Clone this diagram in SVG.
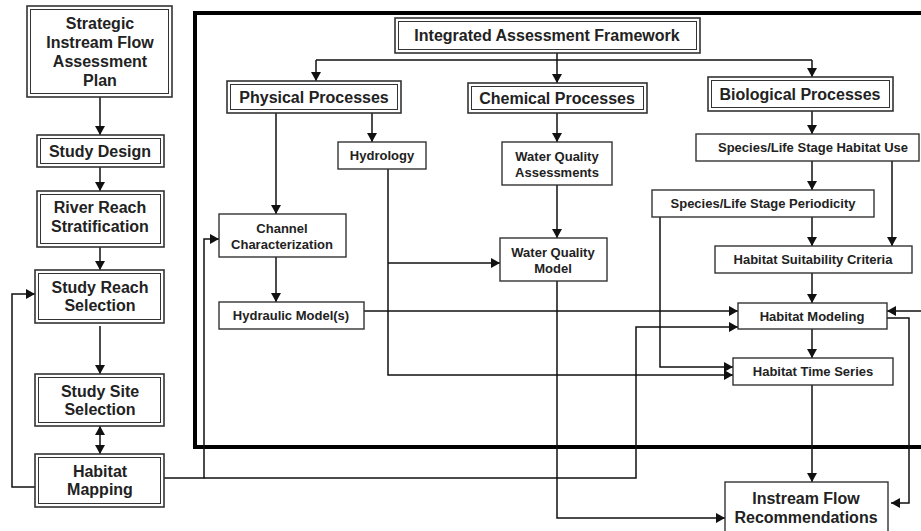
<svg xmlns="http://www.w3.org/2000/svg" width="921" height="531" viewBox="0 0 921 531">
<style>
.o{fill:#fff;stroke:#333;stroke-width:1.6}
.i{fill:none;stroke:#333;stroke-width:1}
.s{fill:#fff;stroke:#333;stroke-width:1.4}
.t{font-family:"Liberation Sans",Arial,sans-serif;font-weight:bold;font-size:16px;fill:#222;text-anchor:middle}
.m{font-family:"Liberation Sans",Arial,sans-serif;font-weight:bold;font-size:13px;fill:#222;text-anchor:middle}
.c{fill:none;stroke:#111;stroke-width:1.5}
.a{marker-end:url(#ah)}
</style>
<defs>
<marker id="ah" markerUnits="userSpaceOnUse" markerWidth="9" markerHeight="10" refX="9" refY="5" orient="auto-start-reverse">
<path d="M0,0 L9,5 L0,10 z" fill="#111"/>
</marker>
</defs>
<rect x="0" y="0" width="921" height="531" fill="#fff"/>
<rect id="frame" x="195" y="13" width="740" height="434" fill="none" stroke="#000" stroke-width="4"/>
<g id="connectors">
<path class="c a" d="M100,97 V135"/>
<path class="c a" d="M100,167 V191"/>
<path class="c a" d="M100,247 V270"/>
<path class="c a" d="M100,326 V374"/>
<path class="c a" d="M100,426 V454" style="marker-start:url(#ah)"/>
<path class="c a" d="M35,487 H12 V294 H35"/>
<path class="c a" d="M164,478 H204 V239 H219"/>
<path class="c a" d="M204,478 H636 V327 H738"/>
<path class="c" d="M557,53 V60 M316,60 H812"/>
<path class="c a" d="M316,60 V81"/>
<path class="c a" d="M557,60 V83"/>
<path class="c a" d="M812,60 V77"/>
<path class="c a" d="M372,113 V142"/>
<path class="c a" d="M276,113 V214"/>
<path class="c a" d="M557,113 V142"/>
<path class="c a" d="M812,111 V134"/>
<path class="c a" d="M812,161 V190"/>
<path class="c a" d="M892,161 V246"/>
<path class="c a" d="M812,217 V246"/>
<path class="c a" d="M812,273 V303"/>
<path class="c a" d="M812,329 V358"/>
<path class="c a" d="M812,385 V482"/>
<path class="c a" d="M660,217 V367 H733"/>
<path class="c a" d="M388,169 V375 H733"/>
<path class="c a" d="M388,263 H500"/>
<path class="c a" d="M276,257 V302"/>
<path class="c a" d="M364,311 H738"/>
<path class="c a" d="M557,185 V238"/>
<path class="c a" d="M557,281 V518 H725"/>
<path class="c a" d="M921,311 H887"/>
<path class="c a" d="M887,318 H909 V503 H891"/>
</g>
<g id="strategic-plan">
<rect class="o" x="27" y="6" width="145" height="91"/>
<rect class="i" x="30.5" y="9.5" width="138" height="84"/>
<text class="t" x="100" y="29">Strategic</text>
<text class="t" x="100" y="48">Instream Flow</text>
<text class="t" x="100" y="67">Assessment</text>
<text class="t" x="100" y="86">Plan</text>
</g>
<g id="study-design">
<rect class="o" x="37" y="135" width="127" height="32"/>
<rect class="i" x="40.5" y="138.5" width="120" height="25"/>
<text class="t" x="100" y="157">Study Design</text>
</g>
<g id="river-reach">
<rect class="o" x="37" y="191" width="127" height="56"/>
<rect class="i" x="40.5" y="194.5" width="120" height="49"/>
<text class="t" x="100" y="213">River Reach</text>
<text class="t" x="100" y="232">Stratification</text>
</g>
<g id="study-reach">
<rect class="o" x="35" y="270" width="129" height="53"/>
<rect class="i" x="38.5" y="273.5" width="122" height="46"/>
<text class="t" x="100" y="293">Study Reach</text>
<text class="t" x="100" y="311">Selection</text>
</g>
<g id="study-site">
<rect class="o" x="35" y="374" width="129" height="52"/>
<rect class="i" x="38.5" y="377.5" width="122" height="45"/>
<text class="t" x="100" y="397">Study Site</text>
<text class="t" x="100" y="415">Selection</text>
</g>
<g id="habitat-mapping">
<rect class="o" x="35" y="454" width="129" height="53"/>
<rect class="i" x="38.5" y="457.5" width="122" height="46"/>
<text class="t" x="100" y="477">Habitat</text>
<text class="t" x="100" y="495">Mapping</text>
</g>
<g id="iaf">
<rect class="o" x="395" y="18" width="305" height="35"/>
<rect class="i" x="398.5" y="21.5" width="298" height="28"/>
<text class="t" x="547" y="41">Integrated Assessment Framework</text>
</g>
<g id="physical">
<rect class="o" x="227" y="81" width="174" height="32"/>
<rect class="i" x="230.5" y="84.5" width="167" height="25"/>
<text class="t" x="314" y="103">Physical Processes</text>
</g>
<g id="chemical">
<rect class="o" x="468" y="83" width="179" height="30"/>
<rect class="i" x="471.5" y="86.5" width="172" height="23"/>
<text class="t" x="557" y="104">Chemical Processes</text>
</g>
<g id="biological">
<rect class="o" x="708" y="77" width="185" height="34"/>
<rect class="i" x="711.5" y="80.5" width="178" height="27"/>
<text class="t" x="800" y="100">Biological Processes</text>
</g>
<g id="hydrology">
<rect class="s" x="338" y="142" width="88" height="27"/>
<text class="m" x="382" y="160">Hydrology</text>
</g>
<g id="wq-assessments">
<rect class="s" x="502" y="142" width="110" height="43"/>
<text class="m" x="557" y="161">Water Quality</text>
<text class="m" x="557" y="177">Assessments</text>
</g>
<g id="habitat-use">
<rect class="s" x="696" y="134" width="223" height="27"/>
<text class="m" x="813" y="152">Species/Life Stage Habitat Use</text>
</g>
<g id="periodicity">
<rect class="s" x="652" y="190" width="222" height="27"/>
<text class="m" x="763" y="208">Species/Life Stage Periodicity</text>
</g>
<g id="hsc">
<rect class="s" x="715" y="246" width="197" height="27"/>
<text class="m" x="813" y="264">Habitat Suitability Criteria</text>
</g>
<g id="habitat-modeling">
<rect class="s" x="738" y="303" width="149" height="26"/>
<text class="m" x="812" y="321">Habitat Modeling</text>
</g>
<g id="habitat-time-series">
<rect class="s" x="733" y="358" width="160" height="27"/>
<text class="m" x="813" y="376">Habitat Time Series</text>
</g>
<g id="channel">
<rect class="s" x="219" y="214" width="127" height="43"/>
<text class="m" x="282" y="233">Channel</text>
<text class="m" x="282" y="249">Characterization</text>
</g>
<g id="hydraulic">
<rect class="s" x="219" y="302" width="145" height="27"/>
<text class="m" x="291" y="320">Hydraulic Model(s)</text>
</g>
<g id="wq-model">
<rect class="s" x="500" y="238" width="107" height="43"/>
<text class="m" x="553" y="257">Water Quality</text>
<text class="m" x="553" y="273">Model</text>
</g>
<g id="ifr">
<rect class="s" x="725" y="482" width="163" height="54"/>
<text class="t" x="806" y="504">Instream Flow</text>
<text class="t" x="806" y="523">Recommendations</text>
</g>
</svg>
